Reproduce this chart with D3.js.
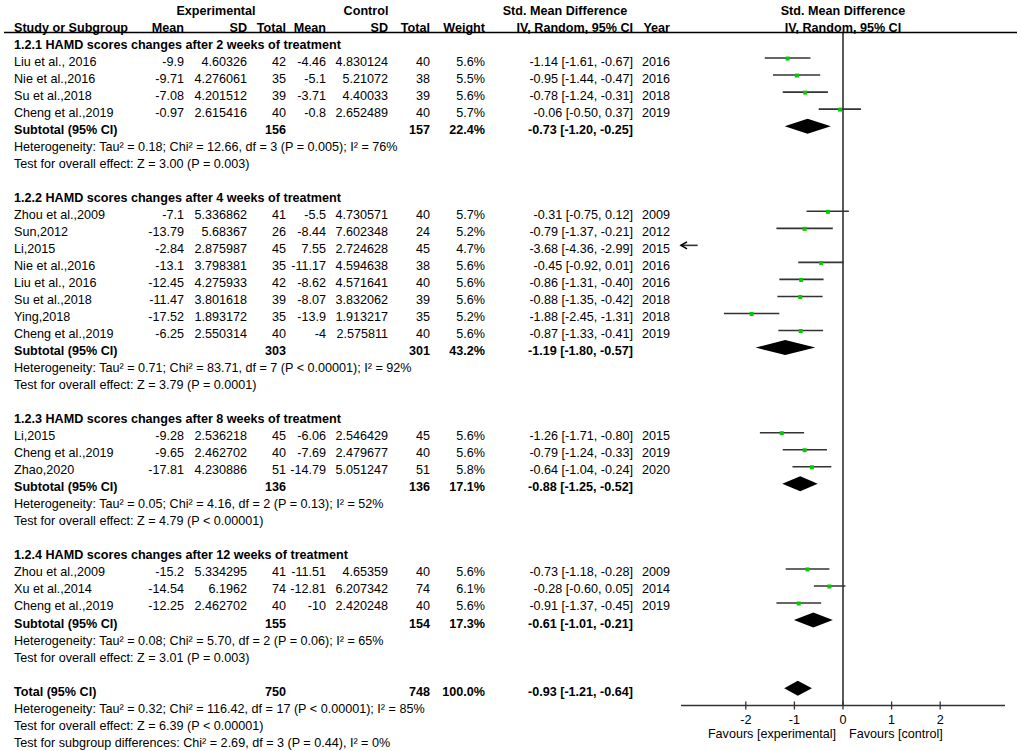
<!DOCTYPE html>
<html><head><meta charset="utf-8">
<script src="https://cdn.jsdelivr.net/npm/d3@7"></script>
<style>body{margin:0;background:#fff}svg{display:block}text{font-family:"Liberation Sans",Arial,sans-serif;font-size:12.6px;fill:#000}</style>
</head><body><svg id="c" width="1021" height="751"></svg>
<script>
// ---- data ----
const groupTitles = [
  "1.2.1 HAMD scores changes after 2 weeks of treatment",
  "1.2.2 HAMD scores changes after 4 weeks of treatment",
  "1.2.3 HAMD scores changes after 8 weeks of treatment",
  "1.2.4 HAMD scores changes after 12 weeks of treatment"
];
const studyGroup = [0,0,0,0, 1,1,1,1,1,1,1,1, 2,2,2, 3,3,3];
const studyNames = ["Liu et al., 2016","Nie et al.,2016","Su et al.,2018","Cheng et al.,2019",
  "Zhou et al.,2009","Sun,2012","Li,2015","Nie et al.,2016","Liu et al., 2016","Su et al.,2018","Ying,2018","Cheng et al.,2019",
  "Li,2015","Cheng et al.,2019","Zhao,2020",
  "Zhou et al.,2009","Xu et al.,2014","Cheng et al.,2019"];
const expMean = ["-9.9","-9.71","-7.08","-0.97","-7.1","-13.79","-2.84","-13.1","-12.45","-11.47","-17.52","-6.25","-9.28","-9.65","-17.81","-15.2","-14.54","-12.25"];
const expSD = ["4.60326","4.276061","4.201512","2.615416","5.336862","5.68367","2.875987","3.798381","4.275933","3.801618","1.893172","2.550314","2.536218","2.462702","4.230886","5.334295","6.1962","2.462702"];
const expN = [42,35,39,40,41,26,45,35,42,39,35,40,45,40,51,41,74,40];
const ctrlMean = ["-4.46","-5.1","-3.71","-0.8","-5.5","-8.44","7.55","-11.17","-8.62","-8.07","-13.9","-4","-6.06","-7.69","-14.79","-11.51","-12.81","-10"];
const ctrlSD = ["4.830124","5.21072","4.40033","2.652489","4.730571","7.602348","2.724628","4.594638","4.571641","3.832062","1.913217","2.575811","2.546429","2.479677","5.051247","4.65359","6.207342","2.420248"];
const ctrlN = [40,38,39,40,40,24,45,38,40,39,35,40,45,40,51,40,74,40];
const weights = ["5.6%","5.5%","5.6%","5.7%","5.7%","5.2%","4.7%","5.6%","5.6%","5.6%","5.2%","5.6%","5.6%","5.6%","5.8%","5.6%","6.1%","5.6%"];
const smd = [-1.14,-0.95,-0.78,-0.06,-0.31,-0.79,-3.68,-0.45,-0.86,-0.88,-1.88,-0.87,-1.26,-0.79,-0.64,-0.73,-0.28,-0.91];
const smdLo = [-1.61,-1.44,-1.24,-0.50,-0.75,-1.37,-4.36,-0.92,-1.31,-1.35,-2.45,-1.33,-1.71,-1.24,-1.04,-1.18,-0.60,-1.37];
const smdHi = [-0.67,-0.47,-0.31,0.37,0.12,-0.21,-2.99,0.01,-0.40,-0.42,-1.31,-0.41,-0.80,-0.33,-0.24,-0.28,0.05,-0.45];
const years = [2016,2016,2018,2019,2009,2012,2015,2016,2016,2018,2018,2019,2015,2019,2020,2009,2014,2019];
const subExpN = [156,303,136,155];
const subCtrlN = [157,301,136,154];
const subWeight = ["22.4%","43.2%","17.1%","17.3%"];
const subSMD = [-0.73,-1.19,-0.88,-0.61];
const subLo = [-1.20,-1.80,-1.25,-1.01];
const subHi = [-0.25,-0.57,-0.52,-0.21];
const subHet = [
  "Heterogeneity: Tau² = 0.18; Chi² = 12.66, df = 3 (P = 0.005); I² = 76%",
  "Heterogeneity: Tau² = 0.71; Chi² = 83.71, df = 7 (P < 0.00001); I² = 92%",
  "Heterogeneity: Tau² = 0.05; Chi² = 4.16, df = 2 (P = 0.13); I² = 52%",
  "Heterogeneity: Tau² = 0.08; Chi² = 5.70, df = 2 (P = 0.06); I² = 65%"
];
const subEffect = [
  "Test for overall effect: Z = 3.00 (P = 0.003)",
  "Test for overall effect: Z = 3.79 (P = 0.0001)",
  "Test for overall effect: Z = 4.79 (P < 0.00001)",
  "Test for overall effect: Z = 3.01 (P = 0.003)"
];
const totalExpN = 750, totalCtrlN = 748, totalWeight = "100.0%";
const totalSMD = -0.93, totalLo = -1.21, totalHi = -0.64;
const totalNotes = [
  "Heterogeneity: Tau² = 0.32; Chi² = 116.42, df = 17 (P < 0.00001); I² = 85%",
  "Test for overall effect: Z = 6.39 (P < 0.00001)",
  "Test for subgroup differences: Chi² = 2.69, df = 3 (P = 0.44), I² = 0%"
];
const axisTicks = [-2,-1,0,1,2];
const axisDomain = [-10/3, 10/3];
const favourLabels = ["Favours [experimental]","Favours [control]"];

// ---- layout ----
const svg = d3.select("#c");
svg.append("rect").attr("width",1021).attr("height",751).attr("fill","#fff");
const x = d3.scaleLinear().domain(axisDomain).range([681,1005]);
const rowY = i => 44 + i*17.03;
const BL = 4.5; // baseline offset from row center
const col = {name:14, eMean:184, eSD:247, eN:286, cMean:326, cSD:388, cN:430, w:485, smd:633, year:670};
const fmt = v => v.toFixed(2);
const ci = (m,l,h) => `${fmt(m)} [${fmt(l)}, ${fmt(h)}]`;

function txt(xp, y, s, anchor, bold){
  return svg.append("text").attr("x",xp).attr("y",y+BL).attr("text-anchor",anchor||"start")
    .attr("font-weight",bold?"bold":null).text(s);
}

// headers
txt(216,10,"Experimental","middle",true);
txt(366,10,"Control","middle",true);
txt(565,10,"Std. Mean Difference","middle",true);
txt(843,10,"Std. Mean Difference","middle",true);
txt(col.name,27,"Study or Subgroup","start",true);
txt(col.eMean,27,"Mean","end",true);
txt(col.eSD,27,"SD","end",true);
txt(col.eN,27,"Total","end",true);
txt(col.cMean,27,"Mean","end",true);
txt(col.cSD,27,"SD","end",true);
txt(col.cN,27,"Total","end",true);
txt(col.w,27,"Weight","end",true);
txt(col.smd,27,"IV, Random, 95% CI","end",true);
txt(col.year,27,"Year","end",true);
txt(843,27,"IV, Random, 95% CI","middle",true);
svg.append("line").attr("x1",4).attr("x2",1017).attr("y1",32.5).attr("y2",32.5).attr("stroke","#000").attr("stroke-width",1.3);

// zero line
svg.append("line").attr("x1",x(0)).attr("x2",x(0)).attr("y1",32).attr("y2",705.5).attr("stroke","#000").attr("stroke-width",1.3);

const markOff = -3;
function diamond(m,l,h,y){
  const yc = y + markOff;
  svg.append("path").attr("d",`M${x(l)},${yc} L${x(m)},${yc-7.5} L${x(h)},${yc} L${x(m)},${yc+7.5} Z`).attr("fill","#000");
}
function studyMark(m,l,h,y){
  const yc = y + markOff;
  const [d0,d1] = axisDomain;
  const lc = Math.max(l,d0), hc = Math.min(h,d1);
  svg.append("line").attr("x1",x(lc)).attr("x2",x(hc)).attr("y1",yc).attr("y2",yc).attr("stroke","#333").attr("stroke-width",1.6);
  if(l<d0){
    svg.append("path").attr("d",`M${x(d0)+6},${yc-3.5} L${x(d0)},${yc} L${x(d0)+6},${yc+3.5}`).attr("fill","none").attr("stroke","#000").attr("stroke-width",1.6);
  }
  if(m>=d0 && m<=d1){
    svg.append("rect").attr("x",x(m)-2).attr("y",yc-1.5).attr("width",4).attr("height",4).attr("fill","#00cc00");
  }
}

let r = 0;
groupTitles.forEach((g,gi)=>{
  txt(col.name,rowY(r),g,"start",true); r++;
  studyNames.forEach((n,i)=>{
    if(studyGroup[i]!==gi) return;
    const y = rowY(r);
    txt(col.name,y,n);
    txt(col.eMean,y,expMean[i],"end");
    txt(col.eSD,y,expSD[i],"end");
    txt(col.eN,y,expN[i],"end");
    txt(col.cMean,y,ctrlMean[i],"end");
    txt(col.cSD,y,ctrlSD[i],"end");
    txt(col.cN,y,ctrlN[i],"end");
    txt(col.w,y,weights[i],"end");
    txt(col.smd,y,ci(smd[i],smdLo[i],smdHi[i]),"end");
    txt(col.year,y,years[i],"end");
    studyMark(smd[i],smdLo[i],smdHi[i],y);
    r++;
  });
  const y = rowY(r);
  txt(col.name,y,"Subtotal (95% CI)","start",true);
  txt(col.eN,y,subExpN[gi],"end",true);
  txt(col.cN,y,subCtrlN[gi],"end",true);
  txt(col.w,y,subWeight[gi],"end",true);
  txt(col.smd,y,ci(subSMD[gi],subLo[gi],subHi[gi]),"end",true);
  diamond(subSMD[gi],subLo[gi],subHi[gi],y);
  r++;
  txt(col.name,rowY(r),subHet[gi]); r++;
  txt(col.name,rowY(r),subEffect[gi]); r++;
  r++;
});
{
  const y = rowY(r);
  txt(col.name,y,"Total (95% CI)","start",true);
  txt(col.eN,y,totalExpN,"end",true);
  txt(col.cN,y,totalCtrlN,"end",true);
  txt(col.w,y,totalWeight,"end",true);
  txt(col.smd,y,ci(totalSMD,totalLo,totalHi),"end",true);
  diamond(totalSMD,totalLo,totalHi,y);
  r++;
  totalNotes.forEach(t=>{ txt(col.name,rowY(r),t); r++; });
}

// axis
const axY = 705.5;
svg.append("line").attr("x1",x(axisDomain[0])).attr("x2",x(axisDomain[1])).attr("y1",axY).attr("y2",axY).attr("stroke","#333").attr("stroke-width",1.3);
axisTicks.forEach(t=>{
  svg.append("line").attr("x1",x(t)).attr("x2",x(t)).attr("y1",axY-4).attr("y2",axY+4).attr("stroke","#333").attr("stroke-width",1.3);
  svg.append("text").attr("x",x(t)).attr("y",723.5).attr("text-anchor","middle").text(t);
});
svg.append("text").attr("x",x(0)-7).attr("y",737.5).attr("text-anchor","end").text(favourLabels[0]);
svg.append("text").attr("x",x(0)+6).attr("y",737.5).attr("text-anchor","start").text(favourLabels[1]);
</script></body></html>
